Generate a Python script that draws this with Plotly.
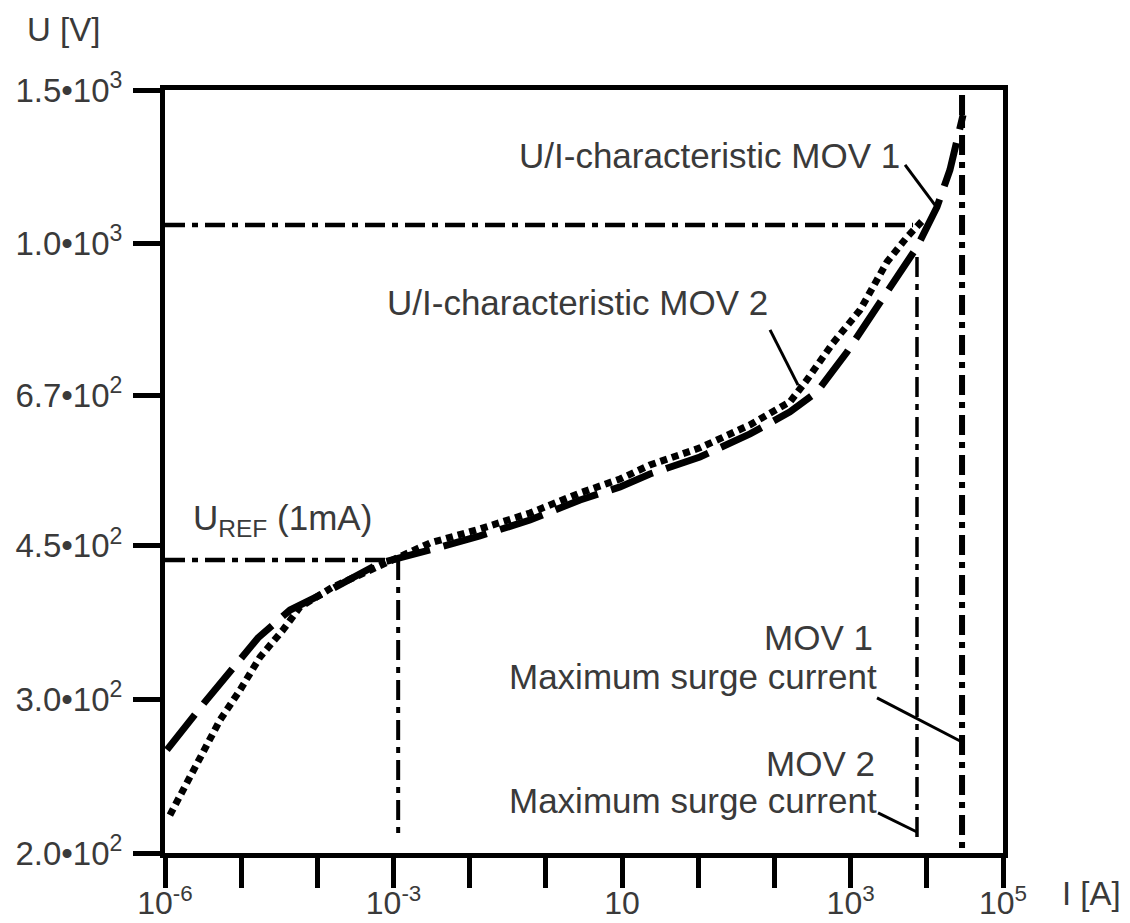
import plotly.graph_objects as go
import math

# ---- data ----
# MOV 1 U/I characteristic (long dashed)
mov1_I = [1.06e-6, 3.35e-6, 1.66e-5, 4.38e-5, 1.47e-4, 6.64e-4, 3.01e-3, 1.36e-2, 6.18e-2,
          0.281, 0.94, 2.32, 10.5, 47.8, 160, 362, 897, 1800, 4060, 7430, 13600, 20100, 29900]
mov1_U = [262.6, 298.1, 352.9, 379.9, 400.5, 430.2, 445.2, 462.0, 481.9,
          508.1, 525.9, 544.1, 569.1, 604.9, 641.2, 675.9, 751.0, 821.5, 915.5, 990.9, 1101.3, 1214.5, 1404]

# MOV 2 U/I characteristic (dotted)
mov2_I = [1.16e-6, 1.72e-6, 2.88e-6, 5.27e-6, 9.66e-6, 1.77e-5, 3.54e-5, 5.92e-5, 1.60e-4,
          4.49e-4, 1.22e-3, 3.01e-3, 1.36e-2, 6.18e-2, 0.281, 0.94, 2.32, 10.5, 47.8, 160,
          267, 587, 1330, 3000, 5500, 9460]
mov2_U = [221.1, 236.2, 257.7, 284.1, 307.6, 335.6, 360.5, 383.0, 403.7,
          420.1, 435.9, 453.5, 470.6, 490.8, 517.6, 537.0, 557.2, 583.0, 619.6, 658.4,
          697.7, 769.1, 839.1, 952.4, 1017.4, 1069.8]

# reference values
I_axis_min = 1e-6
U_axis_min = 200
U_axis_max = 1500
I_ref = 1.15e-3          # 1 mA point
U_ref = 433.6            # U_REF
U_top = 1050.3           # upper horizontal reference
I_top_end = 6590
I_surge_mov2 = 7430
U_surge_mov2_top = 965
I_surge_mov1 = 29000
U_surge_mov1_top = 1480
U_vline_bottom = 208.1

# leader lines (start, end)
lead_mov1_I = [5180, 12820]
lead_mov1_U = [1231, 1107]
lead_mov2_I = [87.5, 204]
lead_mov2_U = [796, 688]
lead_surge1_I = [2220, 29000]
lead_surge1_U = [301.2, 268.1]
lead_surge2_I = [2290, 7430]
lead_surge2_U = [222.3, 211.4]

# axis ticks
x_tickvals = [10.0 ** k for k in range(-6, 6)]
x_ticktext = ["10<sup>-6</sup>", "", "", "10<sup>-3</sup>", "", "", "10", "", "",
              "10<sup>3</sup>", "", "10<sup>5</sup>"]
y_tickvals = [200, 300, 450, 670, 1000, 1500]
y_ticktext = ["2.0•10<sup>2</sup>", "3.0•10<sup>2</sup>", "4.5•10<sup>2</sup>",
              "6.7•10<sup>2</sup>", "1.0•10<sup>3</sup>", "1.5•10<sup>3</sup>"]

TXT = "#3a3a3a"
FONT = "Liberation Sans, Arial, sans-serif"
DASHDOT = "20px,7px,6px,7px"

fig = go.Figure()

def line(x, y, width, dash, color="black"):
    fig.add_trace(go.Scatter(x=x, y=y, mode="lines", hoverinfo="skip",
                             line=dict(color=color, width=width, dash=dash)))

# reference dash-dot lines
line([I_axis_min, I_ref], [U_ref, U_ref], 4.5, DASHDOT)
line([I_ref, I_ref], [U_ref, U_vline_bottom], 4, DASHDOT)
line([I_axis_min, I_top_end], [U_top, U_top], 4.5, DASHDOT)
line([I_surge_mov2, I_surge_mov2], [U_surge_mov2_top, U_vline_bottom], 3.5, DASHDOT)
line([I_surge_mov1, I_surge_mov1], [U_surge_mov1_top, U_axis_min], 6, DASHDOT)

# characteristics
line(mov1_I, mov1_U, 7, "45px,14px")
line(mov2_I, mov2_U, 7, "7px,5px")

# leader lines
line(lead_mov1_I, lead_mov1_U, 3, "solid")
line(lead_mov2_I, lead_mov2_U, 3, "solid")
line(lead_surge1_I, lead_surge1_U, 3, "solid")
line(lead_surge2_I, lead_surge2_U, 3, "solid")

# page has an 8px body margin; figure coordinates = page - 8
OFF = 8
W, H = 1130 - OFF, 923 - OFF
PL, PR, PT, PB = 165, 1003, 90, 853      # plot-area edges in page pixels
L, T = PL - OFF, PT - OFF
R, B = W - (PR - OFF), H - (PB - OFF)
pw, ph = PR - PL, PB - PT

def px(x):
    return (x - PL) / pw

def py(y):
    return (PB - y) / ph

def ann(text, x, y, xanchor, size=35):
    fig.add_annotation(text=text, xref="paper", yref="paper", x=px(x), y=py(y),
                       xanchor=xanchor, yanchor="middle", showarrow=False,
                       font=dict(family=FONT, size=size, color=TXT))

ann("U/I-characteristic MOV 1", 902, 155, "right")
ann("U/I-characteristic MOV 2", 770, 302, "right")
ann("U<sub>REF</sub> (1mA)", 191, 520, "left")
ann("MOV 1", 875, 637, "right")
ann("Maximum surge current", 879, 676, "right")
ann("MOV 2", 877, 763, "right")
ann("Maximum surge current", 879, 800, "right")
ann("U [V]", 25, 30, "left", 33)
ann("I [A]", 1060, 893, "left", 33)

fig.update_layout(
    width=W, height=H,
    margin=dict(l=L, r=R, t=T, b=B, autoexpand=False),
    paper_bgcolor="white", plot_bgcolor="white",
    showlegend=False,
    font=dict(family=FONT, color=TXT),
    xaxis=dict(type="log", range=[-6, 5], tickvals=x_tickvals, ticktext=x_ticktext,
               ticks="outside", ticklen=30, tickwidth=5, tickcolor="black",
               showline=True, linewidth=5, linecolor="black", mirror=True,
               showgrid=False, zeroline=False, automargin=False, ticklabelstandoff=-12,
               tickfont=dict(family=FONT, size=32, color=TXT)),
    yaxis=dict(type="log", range=[math.log10(U_axis_min), math.log10(U_axis_max)],
               tickvals=y_tickvals, ticktext=y_ticktext,
               ticks="outside", ticklen=27, tickwidth=5, tickcolor="black",
               showline=True, linewidth=5, linecolor="black", mirror=True,
               showgrid=False, zeroline=False, automargin=False, ticklabelstandoff=4,
               tickfont=dict(family=FONT, size=33, color=TXT)),
)

fig.write_html("out.html")
